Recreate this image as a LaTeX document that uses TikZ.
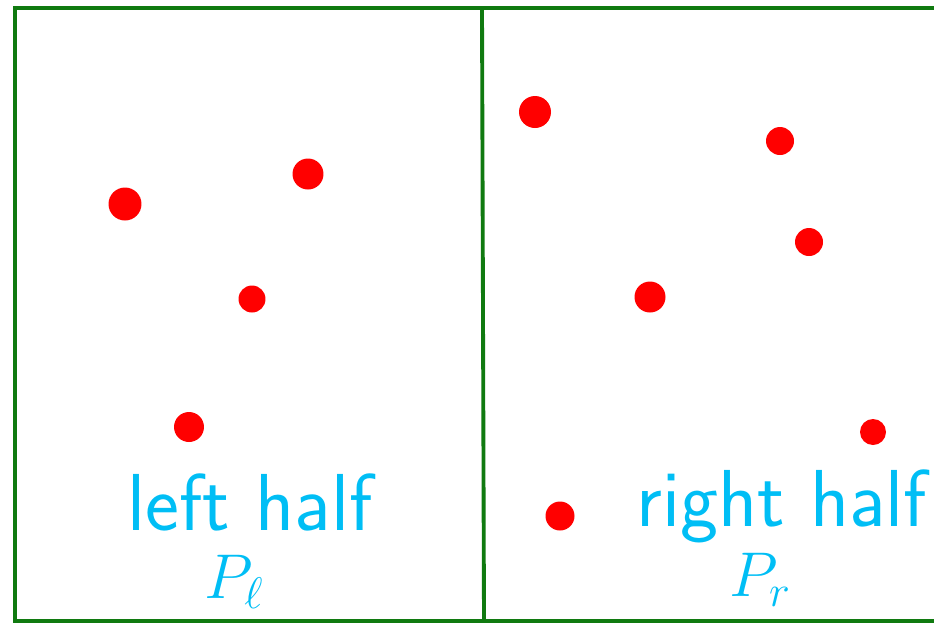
\documentclass[tikz,border=0pt]{standalone}
\usepackage{amsmath}
\usepackage{fix-cm}
\usepackage{xcolor}
\usepackage{tikz}
\usetikzlibrary{positioning}

\definecolor{framegreen}{RGB}{16,122,16}
\definecolor{inkblue}{RGB}{0,190,245}
\definecolor{dotred}{RGB}{255,0,0}

\begin{document}
\begin{tikzpicture}[
    x=0.02cm,
    y=-0.02cm,
    frame/.style={
        draw=framegreen,
        line width=2.2pt
    },
    pt/.style={
        circle,
        fill=dotred,
        inner sep=0pt,
        minimum size=#1
    },
    pt/.default=0.6cm,
    label/.style={
        text=inkblue,
        font=\sffamily\fontsize{46}{50}\selectfont,
        inner sep=0pt
    },
    setlabel/.style={
        label,
        font=\fontsize{36}{40}\selectfont
    }
]

\useasboundingbox (0,0) rectangle (934,623);
\clip (0,0) rectangle (934,623);

% the two halves
\draw[frame] (934,8) -- (15,8) -- (15,621) -- (934,621);
\coordinate (midtop) at (482,8);
\coordinate (midbot) at (484,621);
\draw[frame] (midtop) -- (midbot);

% points of the left half
\node[pt=0.66cm] (l1) at (125,204) {};
\node[pt=0.62cm] (l2) at (308,174) {};
\node[pt=0.54cm] (l3) at (252,299) {};
\node[pt=0.6cm] (l4) at (189,427) {};

% points of the right half
\node[pt=0.64cm] (r1) at (535,112) {};
\node[pt=0.56cm] (r2) at (780,141) {};
\node[pt=0.56cm] (r3) at (809,242) {};
\node[pt=0.62cm] (r4) at (650,297) {};
\node[pt=0.52cm] (r5) at (873,432) {};
\node[pt=0.58cm] (r6) at (560,516) {};

% labels
\node[label] (lhalf) at (250,502) {left half};
\node[setlabel] (lset) at (234,582) {$P_\ell$};

\node[label, anchor=west] (rhalf) at (636,506) {right half};
\node[setlabel] (rset) at (760,580) {$P_r$};

\end{tikzpicture}
\end{document}
